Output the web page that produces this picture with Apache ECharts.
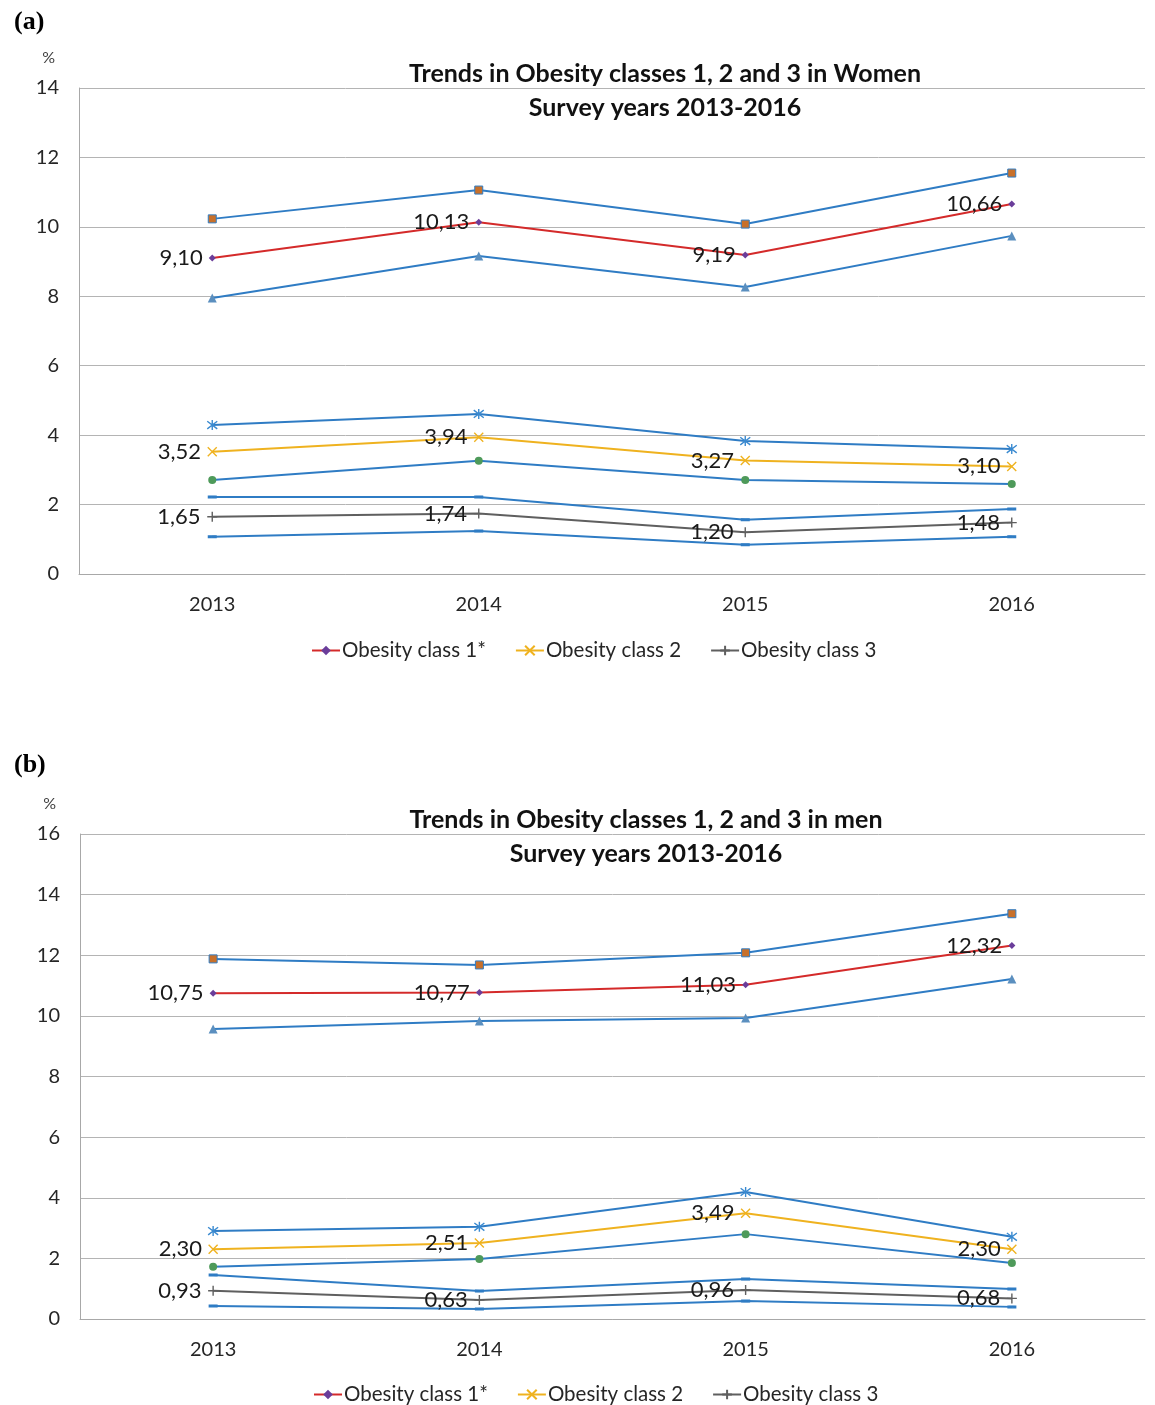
<!DOCTYPE html>
<html>
<head>
<meta charset="utf-8">
<script src="https://cdn.jsdelivr.net/npm/echarts@6/dist/echarts.min.js"></script>
<style>
html,body{margin:0;padding:0;background:#fff;}
#chart{width:1155px;height:1405px;}
</style>
</head>
<body>
<div id="chart"></div>
<script>
const years = ['2013', '2014', '2015', '2016'];
const legendNames = ['Obesity class 1*', 'Obesity class 2', 'Obesity class 3'];

const women_class1 = [9.10, 10.13, 9.19, 10.66];
const women_class1_upper = [10.23, 11.06, 10.08, 11.55];
const women_class1_lower = [7.95, 9.16, 8.27, 9.74];
const women_class2 = [3.52, 3.94, 3.27, 3.10];
const women_class2_upper = [4.29, 4.61, 3.83, 3.60];
const women_class2_lower = [2.71, 3.26, 2.71, 2.59];
const women_class3 = [1.65, 1.74, 1.20, 1.48];
const women_class3_upper = [2.22, 2.22, 1.56, 1.87];
const women_class3_lower = [1.07, 1.24, 0.84, 1.07];

const men_class1 = [10.75, 10.77, 11.03, 12.32];
const men_class1_upper = [11.88, 11.68, 12.08, 13.37];
const men_class1_lower = [9.57, 9.83, 9.93, 11.22];
const men_class2 = [2.30, 2.51, 3.49, 2.30];
const men_class2_upper = [2.90, 3.04, 4.19, 2.71];
const men_class2_lower = [1.72, 1.98, 2.80, 1.85];
const men_class3 = [0.93, 0.63, 0.96, 0.68];
const men_class3_upper = [1.45, 0.92, 1.32, 0.99];
const men_class3_lower = [0.43, 0.33, 0.59, 0.40];

const FONT = 'Lato';
const CI_BLUE = '#2f7cc4';
const RED = '#d42a2a';
const YELLOW = '#efb21f';
const GRAY = '#5f5f5f';

const SYM_STAR = 'path://M5 0L5 10M1.2 1.2L8.8 8.8M8.8 1.2L1.2 8.8';
const SYM_X = 'path://M0 0L10 10M10 0L0 10';
const SYM_PLUS = 'path://M5 0L5 10M0 5L10 5';

function fmt(v) { return v.toFixed(2).replace('.', ','); }

function mainSeries(name, data, gi, color, symbol, symColor, size, stroke) {
  return {
    name: name, type: 'line', data: data,
    xAxisIndex: gi, yAxisIndex: gi, z: 5,
    symbol: symbol, symbolSize: size,
    lineStyle: { color: color, width: 2 },
    itemStyle: stroke ? { color: 'rgba(0,0,0,0)', borderColor: symColor, borderWidth: 1.4 }
                      : { color: symColor, borderColor: symColor, borderWidth: 0 },
    label: {
      show: true, position: 'left', distance: 6,
      formatter: p => fmt(p.value),
      fontFamily: FONT, fontSize: 22, color: '#1a1a1a'
    },
    emphasis: { disabled: true },
    animation: false
  };
}

function ciSeries(name, data, gi, symbol, symColor, size, stroke) {
  return {
    name: name, type: 'line', data: data,
    xAxisIndex: gi, yAxisIndex: gi, z: 3,
    symbol: symbol, symbolSize: size,
    lineStyle: { color: CI_BLUE, width: 2 },
    itemStyle: stroke ? { color: 'rgba(0,0,0,0)', borderColor: symColor, borderWidth: 1.4 }
                      : { color: symColor, borderColor: CI_BLUE, borderWidth: symbol === 'rect' ? 1 : 0 },
    label: { show: false },
    emphasis: { disabled: true },
    animation: false
  };
}

function buildSeries(gi, c1, c1u, c1l, c2, c2u, c2l, c3, c3u, c3l, tag) {
  return [
    ciSeries(tag + ' class 1 upper', c1u, gi, 'rect', '#c8702a', 8, false),
    ciSeries(tag + ' class 1 lower', c1l, gi, 'triangle', '#5b8fbf', 9, false),
    ciSeries(tag + ' class 2 upper', c2u, gi, SYM_STAR, '#3a8ad0', 10, true),
    ciSeries(tag + ' class 2 lower', c2l, gi, 'circle', '#4e9a5a', 8, false),
    ciSeries(tag + ' class 3 upper', c3u, gi, 'rect', CI_BLUE, [6, 2], false),
    ciSeries(tag + ' class 3 lower', c3l, gi, 'rect', CI_BLUE, [6, 2], false),
    mainSeries(legendNames[0], c1, gi, RED, 'diamond', '#6a3d9a', 7, false),
    mainSeries(legendNames[1], c2, gi, YELLOW, SYM_X, YELLOW, 9, true),
    mainSeries(legendNames[2], c3, gi, GRAY, SYM_PLUS, GRAY, 10, true)
  ];
}

function xAxis(gi) {
  return {
    type: 'category', data: years, gridIndex: gi, boundaryGap: true,
    axisLine: { show: true, lineStyle: { color: '#a8a8a8', width: 1 } },
    axisTick: { show: false },
    axisLabel: { fontFamily: FONT, fontSize: 20, color: '#262626', margin: 21 },
    splitLine: { show: false }
  };
}

function yAxis(gi, max) {
  return {
    type: 'value', gridIndex: gi, min: 0, max: max, interval: 2,
    name: '%', nameLocation: 'end', nameGap: 22,
    nameTextStyle: { fontFamily: FONT, fontSize: 16, color: '#404040', align: 'right', padding: [0, 24, 0, 0] },
    axisLine: { show: true, lineStyle: { color: '#a8a8a8', width: 1 } },
    axisTick: { show: false },
    axisLabel: { fontFamily: FONT, fontSize: 20, color: '#262626', margin: 20 },
    splitLine: { show: true, lineStyle: { color: '#b4b4b4', width: 1 } }
  };
}

const chart = echarts.init(document.getElementById('chart'), null, { renderer: 'canvas' });

const option = {
  backgroundColor: '#ffffff',
  animation: false,
  title: [
    { text: '(a)', left: 9, top: 4, textStyle: { fontFamily: 'Liberation Serif', fontWeight: 'bold', fontSize: 26, color: '#000' } },
    { text: '(b)', left: 9, top: 747, textStyle: { fontFamily: 'Liberation Serif', fontWeight: 'bold', fontSize: 26, color: '#000' } },
    { text: 'Trends in Obesity classes 1, 2 and 3 in Women\nSurvey years 2013-2016', left: 660, top: 52, textAlign: 'center',
      textStyle: { fontFamily: FONT, fontWeight: 'bold', fontSize: 25, lineHeight: 34, color: '#111' } },
    { text: 'Trends in Obesity classes 1, 2 and 3 in men\nSurvey years 2013-2016', left: 641, top: 798, textAlign: 'center',
      textStyle: { fontFamily: FONT, fontWeight: 'bold', fontSize: 25, lineHeight: 34, color: '#111' } }
  ],
  legend: [
    { data: legendNames, left: 306, top: 635, itemWidth: 28, itemHeight: 12, itemGap: 29,
      textStyle: { fontFamily: FONT, fontSize: 20.5, color: '#262626', padding: [0, 0, 0, -3] } },
    { data: legendNames, left: 308, top: 1379, itemWidth: 28, itemHeight: 12, itemGap: 29,
      textStyle: { fontFamily: FONT, fontSize: 20.5, color: '#262626', padding: [0, 0, 0, -3] } }
  ],
  grid: [
    { left: 79, top: 88, width: 1066, height: 486 },
    { left: 80, top: 834, width: 1065, height: 485 }
  ],
  xAxis: [xAxis(0), xAxis(1)],
  yAxis: [yAxis(0, 14), yAxis(1, 16)],
  series: [].concat(
    buildSeries(0, women_class1, women_class1_upper, women_class1_lower,
      women_class2, women_class2_upper, women_class2_lower,
      women_class3, women_class3_upper, women_class3_lower, 'Women'),
    buildSeries(1, men_class1, men_class1_upper, men_class1_lower,
      men_class2, men_class2_upper, men_class2_lower,
      men_class3, men_class3_upper, men_class3_lower, 'Men')
  )
};

chart.setOption(option);
</script>
</body>
</html>
